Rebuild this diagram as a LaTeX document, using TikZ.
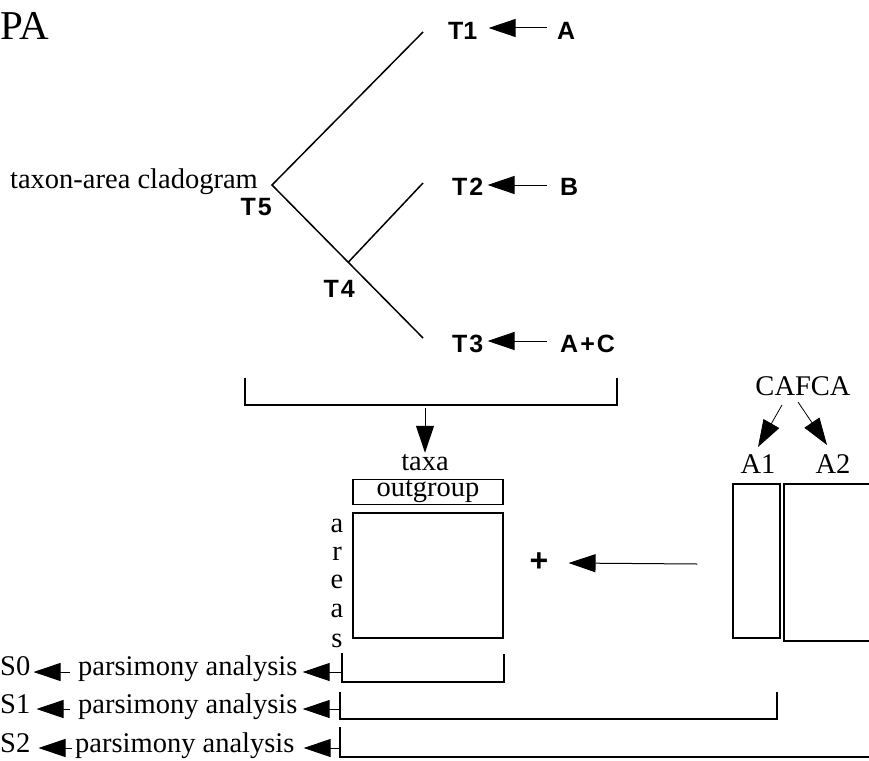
\documentclass[tikz,border=0pt]{standalone}
\usepackage{fontspec}
\setmainfont{Liberation Serif}
\setsansfont{Liberation Sans}
\usetikzlibrary{arrows.meta,calc}
\tikzset{
  serif/.style={font=\fontsize{28.5}{30}\selectfont, inner sep=0pt},
  tlab/.style={font=\sffamily\bfseries\fontsize{25}{27}\selectfont, inner sep=0pt},
  arr/.style={-{Triangle[length=27pt,width=18pt]}, line width=1pt},
  ln/.style={line width=1.5pt},
  boxnode/.style={draw, line width=1.4pt, inner sep=0pt}
}
\begin{document}
\begin{tikzpicture}[x=1pt,y=-1pt]
\useasboundingbox (0,0) rectangle (869,760);

% title
\node[serif, font=\fontsize{41}{44}\selectfont, anchor=base west] (pa) at (0,40) {PA};

% tree
\coordinate (root) at (272,185);
\coordinate (e1) at (423,32);
\coordinate (e2) at (423,183);
\coordinate (e3) at (423,338);
\coordinate (n4) at ($(root)!0.505!(e3)$);
\draw[ln] (e1) -- (root) -- (e3);
\draw[ln] (n4) -- (e2);

\node[serif, anchor=base east] (tac) at (258,188) {taxon-area cladogram};
\node[tlab, anchor=base east] (t5) at (272,215) {T\kern2pt5};
\node[tlab, anchor=base east] (t4) at (355,297) {T\kern2pt4};

\node[tlab, anchor=base west] (t1) at (448,40) {T1};
\node[tlab, anchor=base west] (t2) at (452,195) {T\kern2pt2};
\node[tlab, anchor=base west] (t3) at (452,352) {T\kern2pt3};
\node[tlab, anchor=base west] (la) at (557,40) {A};
\node[tlab, anchor=base west] (lb) at (560,195) {B};
\node[tlab, anchor=base west] (lac) at (560,352) {A\kern2pt+\kern2pt C};

\draw[arr] ($(la.base west)+(-10,-12)$) -- ($(t1.base east)+(11,-12)$);
\draw[arr] ($(lb.base west)+(-13,-10)$) -- ($(t2.base east)+(4,-10)$);
\draw[arr] ($(lac.base west)+(-13,-11)$) -- ($(t3.base east)+(4,-11)$);

% bracket under tree
\coordinate (bl) at (245,378);
\coordinate (br) at (617,378);
\draw[ln] (bl) -- (245,405) -- (617,405) -- (br);
\coordinate (bmid) at (425,408);

% taxa matrix
\node[serif, anchor=base] (taxa) at (425,470) {taxa};
\draw[arr] (bmid) -- ($(taxa.north)+(0,-1)$);
\node[boxnode, serif, minimum width=150pt, minimum height=25pt] (og) at (428,492) {outgroup};
\node[boxnode, minimum width=150pt, minimum height=125pt] (mat) at (428,575.5) {};
\node[serif, anchor=base] (ar1) at (337,532) {a};
\node[serif, anchor=base] (ar2) at (337,560) {r};
\node[serif, anchor=base] (ar3) at (337,588) {e};
\node[serif, anchor=base] (ar4) at (337,617) {a};
\node[serif, anchor=base] (ar5) at (337,647) {s};

% plus and CAFCA
\node[tlab, font=\sffamily\bfseries\fontsize{32}{34}\selectfont] (plus) at (539,562) {+};
\node[serif, anchor=base] (cafca) at (803,395) {CAFCA};
\node[serif, anchor=base] (a1) at (758,473) {A1};
\node[serif, anchor=base] (a2) at (833,473) {A2};
\draw[arr, line width=0.8pt] ($(cafca.base)+(-21,10)$) -- ($(a1.base)+(0,-26)$);
\draw[arr, line width=0.8pt] ($(cafca.base)+(-5,7)$) -- ($(a2.base)+(-6,-28)$);
\node[boxnode, minimum width=47pt, minimum height=154pt] (a1box) at (756.5,561) {};
\node[boxnode, minimum width=96pt, minimum height=157pt] (a2box) at (832,562.5) {};
\draw[arr] ($(a1box.west)+(-35,3)$) -- ($(plus.east)+(20,1)$);

% parsimony rows
\node[serif, anchor=base west] (s0) at (0,675) {S0};
\node[serif, anchor=base west] (s1) at (0,713) {S1};
\node[serif, anchor=base west] (s2) at (0,752) {S2};
\node[serif, anchor=base west] (p0) at (78,675) {parsimony analysis};
\node[serif, anchor=base west] (p1) at (78,713) {parsimony analysis};
\node[serif, anchor=base west] (p2) at (75,752) {parsimony analysis};

\draw[arr] ($(p0.base west)+(-8,-3)$) -- ($(s0.base east)+(3,-3)$);
\draw[arr] ($(p1.base west)+(-8,-4)$) -- ($(s1.base east)+(6,-4)$);
\draw[arr] ($(p2.base west)+(-3,-4)$) -- ($(s2.base east)+(8,-4)$);

\coordinate (b0) at (342,653);
\coordinate (b1) at (340,692);
\coordinate (b2) at (340,727);
\draw[ln] (b0) -- (342,682) -- (504,682) -- (504,654);
\draw[ln] (b1) -- (340,719) -- (777,719) -- (777,692);
\draw[ln] (b2) -- (340,757) -- (872,757);

\coordinate (r0) at ($(p0.base east)+(5,-3)$);
\coordinate (r1) at ($(p1.base east)+(5,-4)$);
\coordinate (r2) at ($(p2.base east)+(9,-4)$);
\draw[arr] (r0 -| b0) -- (r0);
\draw[arr] (r1 -| b1) -- (r1);
\draw[arr] (r2 -| b2) -- (r2);
\end{tikzpicture}
\end{document}
